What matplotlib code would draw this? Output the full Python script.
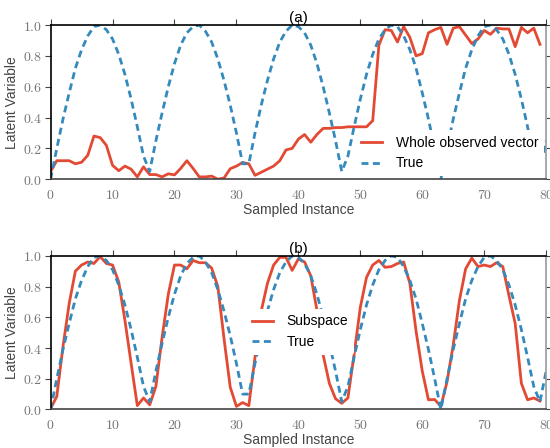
import numpy as np
import matplotlib
matplotlib.use('Agg')
import matplotlib.pyplot as plt
from matplotlib.ticker import FuncFormatter

# data
x_true = np.arange(0, 81)
true_vals = [0.00, 0.20, 0.39, 0.56, 0.72, 0.84, 0.93, 0.99, 1.00, 0.97, 0.91, 0.81, 0.68, 0.52, 0.34, 0.15,
             0.05, 0.25, 0.43, 0.60, 0.75, 0.87, 0.95, 0.99, 1.00, 0.96, 0.89, 0.78, 0.64, 0.48, 0.30, 0.10,
             0.10, 0.30, 0.48, 0.64, 0.78, 0.89, 0.96, 1.00, 0.99, 0.95, 0.87, 0.75, 0.60, 0.43, 0.25, 0.05,
             0.15, 0.34, 0.52, 0.68, 0.81, 0.91, 0.97, 1.00, 0.99, 0.93, 0.84, 0.72, 0.56, 0.39, 0.20, 0.00,
             0.20, 0.39, 0.56, 0.72, 0.84, 0.93, 0.99, 1.00, 0.97, 0.91, 0.81, 0.68, 0.52, 0.34, 0.15, 0.05, 0.25]

x_est = np.arange(0, 80)
whole_vals = [0.05, 0.12, 0.12, 0.12, 0.10, 0.11, 0.155, 0.28, 0.27, 0.22,
              0.09, 0.055, 0.085, 0.065, 0.015, 0.08, 0.03, 0.03, 0.015, 0.035,
              0.028, 0.07, 0.12, 0.07, 0.015, 0.015, 0.02, 0.0, 0.008, 0.068,
              0.085, 0.108, 0.10, 0.025, 0.045, 0.065, 0.085, 0.12, 0.19, 0.20,
              0.26, 0.29, 0.24, 0.29, 0.33, 0.33, 0.335, 0.335, 0.34, 0.34,
              0.34, 0.34, 0.38, 0.87, 0.97, 0.965, 0.89, 0.99, 0.92, 0.80,
              0.815, 0.95, 0.97, 0.985, 0.875, 0.98, 0.99, 0.935, 0.88, 0.91,
              0.965, 0.94, 0.98, 0.975, 0.975, 0.86, 0.985, 0.95, 0.98, 0.875]

subspace_vals = [0.005, 0.085, 0.41, 0.69, 0.90, 0.94, 0.96, 0.95, 0.995, 0.95,
                 0.94, 0.83, 0.58, 0.30, 0.025, 0.075, 0.03, 0.15, 0.47, 0.75,
                 0.94, 0.94, 0.915, 0.97, 0.955, 0.955, 0.92, 0.80, 0.46, 0.145,
                 0.02, 0.045, 0.025, 0.34, 0.64, 0.82, 0.94, 0.99, 0.99, 0.905,
                 0.98, 0.96, 0.87, 0.645, 0.355, 0.17, 0.07, 0.04, 0.075, 0.36,
                 0.665, 0.86, 0.94, 0.97, 0.925, 0.93, 0.95, 0.96, 0.82, 0.51,
                 0.25, 0.063, 0.065, 0.02, 0.18, 0.42, 0.71, 0.915, 0.985, 0.93,
                 0.94, 0.93, 0.955, 0.93, 0.74, 0.56, 0.17, 0.063, 0.075, 0.055]

red = '#E24A33'
blue = '#348ABD'

plt.rcParams['font.family'] = ['Liberation Sans', 'DejaVu Sans']
plt.rcParams['mathtext.fontset'] = 'cm'

fig = plt.figure(figsize=(5.5, 4.48), dpi=100)
ax_a = fig.add_axes([0.092, 0.600, 0.901, 0.344])
ax_b = fig.add_axes([0.092, 0.086, 0.901, 0.343])


def style_axes(ax, title):
    ax.set_xlim(0, 80)
    ax.set_ylim(0, 1)
    ax.set_xticks(np.arange(0, 81, 10))
    ax.set_yticks(np.arange(0, 1.01, 0.2))
    ax.xaxis.set_major_formatter(FuncFormatter(lambda v, p: '$%d$' % v))
    ax.yaxis.set_major_formatter(FuncFormatter(lambda v, p: '$%.1f$' % v))
    ax.tick_params(axis='both', which='major', direction='out', length=4,
                   labelsize=10, labelcolor='#777777', color='#444444',
                   top=True, right=True, bottom=False)
    ax.tick_params(axis='x', pad=2)
    ax.tick_params(axis='y', pad=2)
    ax.spines['left'].set_color('black')
    ax.spines['top'].set_color('black')
    ax.spines['bottom'].set_color('#444444')
    ax.spines['right'].set_color('#999999')
    for s in ax.spines.values():
        s.set_linewidth(1.2)
    ax.set_xlabel('Sampled Instance', fontsize=10, color='#444444', labelpad=1)
    ax.set_ylabel('Latent Variable', fontsize=10, color='#444444', labelpad=3)
    ax.set_title(title, fontsize=11, pad=2)


# (a)
ax_a.plot(x_est, whole_vals, color=red, lw=2, label='Whole observed vector')
ax_a.plot(x_true, true_vals, color=blue, lw=2, dashes=[2.5, 1.6], label='True')
style_axes(ax_a, '(a)')
leg = ax_a.legend(loc='center left', bbox_to_anchor=(0.615, 0.17), frameon=True,
                  fontsize=10, handlelength=1.5, handletextpad=1.0, borderaxespad=0)
leg.get_frame().set_facecolor('white')
leg.get_frame().set_edgecolor('none')
leg.get_frame().set_alpha(1.0)

# (b)
ax_b.plot(x_est, subspace_vals, color=red, lw=2, label='Subspace')
ax_b.plot(x_true, true_vals, color=blue, lw=2, dashes=[2.5, 1.6], label='True')
style_axes(ax_b, '(b)')
leg = ax_b.legend(loc='center left', bbox_to_anchor=(0.395, 0.505), frameon=True,
                  fontsize=10, handlelength=1.5, handletextpad=1.0, borderaxespad=0)
leg.get_frame().set_facecolor('white')
leg.get_frame().set_edgecolor('none')
leg.get_frame().set_alpha(1.0)

fig.savefig('out.png', dpi=100)
